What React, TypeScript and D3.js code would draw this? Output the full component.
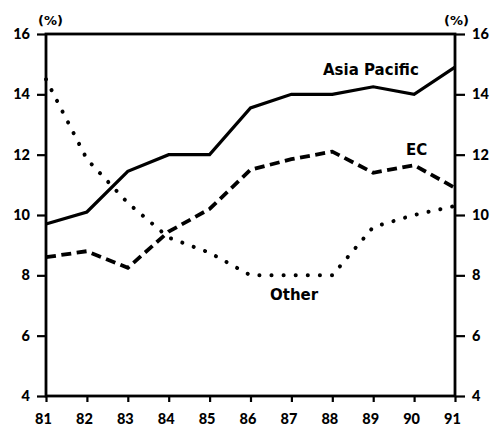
import React, { useEffect, useRef } from 'react';
import * as d3 from 'd3';

const years = ['81', '82', '83', '84', '85', '86', '87', '88', '89', '90', '91'];
const asiaPacific = [9.7, 10.1, 11.45, 12.0, 12.0, 13.55, 14.0, 14.0, 14.25, 14.0, 14.9];
const ec = [8.6, 8.8, 8.25, 9.45, 10.2, 11.5, 11.85, 12.1, 11.4, 11.65, 10.9];
const other = [14.5, 11.85, 10.4, 9.25, 8.75, 8.0, 8.0, 8.0, 9.6, 10.0, 10.3];
const yTicks = [4, 6, 8, 10, 12, 14, 16];

const TICK_FONT = 'Lato, "DejaVu Sans", sans-serif';
const LABEL_FONT = '"DejaVu Sans", Lato, sans-serif';

const App: React.FC = () => {
  const ref = useRef<SVGSVGElement>(null);

  useEffect(() => {
    const svg = d3.select(ref.current);
    svg.selectAll('*').remove();
    const margin = { top: 34, right: 40, bottom: 31, left: 46 };
    const W = 495;
    const H = 427;
    const width = W - margin.left - margin.right;
    const height = H - margin.top - margin.bottom;

    svg.attr('width', W).attr('height', H);
    svg.append('rect').attr('width', W).attr('height', H).attr('fill', '#fff');

    const g = svg.append('g').attr('transform', `translate(${margin.left},${margin.top})`);

    const x = d3.scalePoint().domain(years).range([0, width]);
    const y = d3.scaleLinear().domain([4, 16]).range([height, 0]);

    const styleAxis = (sel) => {
      sel.select('.domain').remove();
      sel.selectAll('line').attr('stroke', '#000').attr('stroke-width', 2.2);
      sel
        .selectAll('text')
        .attr('font-family', TICK_FONT)
        .attr('font-weight', 900)
        .attr('font-size', 14.5)
        .attr('fill', '#000');
    };

    g.append('g')
      .attr('transform', `translate(0,${height})`)
      .call(d3.axisBottom(x).tickSize(6).tickPadding(12))
      .call(styleAxis)
      .selectAll('text')
      .attr('dx', -3);
    g.append('g')
      .call(d3.axisLeft(y).tickValues(yTicks).tickSize(9).tickPadding(7))
      .call(styleAxis);
    g.append('g')
      .attr('transform', `translate(${width},0)`)
      .call(d3.axisRight(y).tickValues(yTicks).tickSize(10).tickPadding(7))
      .call(styleAxis);

    // frame
    g.append('rect')
      .attr('width', width)
      .attr('height', height)
      .attr('fill', 'none')
      .attr('stroke', '#000')
      .attr('stroke-width', 2.8);

    const line = d3
      .line<number>()
      .x((d, i) => x(years[i]))
      .y((d) => y(d));

    g.append('path')
      .attr('d', line(asiaPacific))
      .attr('fill', 'none')
      .attr('stroke', '#000')
      .attr('stroke-width', 3.2);

    g.append('path')
      .attr('d', line(ec))
      .attr('fill', 'none')
      .attr('stroke', '#000')
      .attr('stroke-width', 3.8)
      .attr('stroke-dasharray', '10 5.5');

    g.append('path')
      .attr('d', line(other))
      .attr('fill', 'none')
      .attr('stroke', '#000')
      .attr('stroke-width', 4)
      .attr('stroke-linecap', 'round')
      .attr('stroke-dasharray', '0.1 12');

    const label = (txt, xx, yy, size = 15) =>
      svg
        .append('text')
        .attr('x', xx)
        .attr('y', yy)
        .attr('font-family', LABEL_FONT)
        .attr('font-weight', 'bold')
        .attr('font-size', size)
        .attr('fill', '#000')
        .text(txt);

    label('Asia Pacific', 323, 75);
    label('EC', 406, 155);
    label('Other', 270, 300);
    label('(%)', 38, 25, 13);
    label('(%)', 444, 25, 13);
  }, []);

  return (
    <svg
      ref={ref}
      style={{ position: 'absolute', left: 0, top: 0, display: 'block' }}
    ></svg>
  );
};

export default App;
